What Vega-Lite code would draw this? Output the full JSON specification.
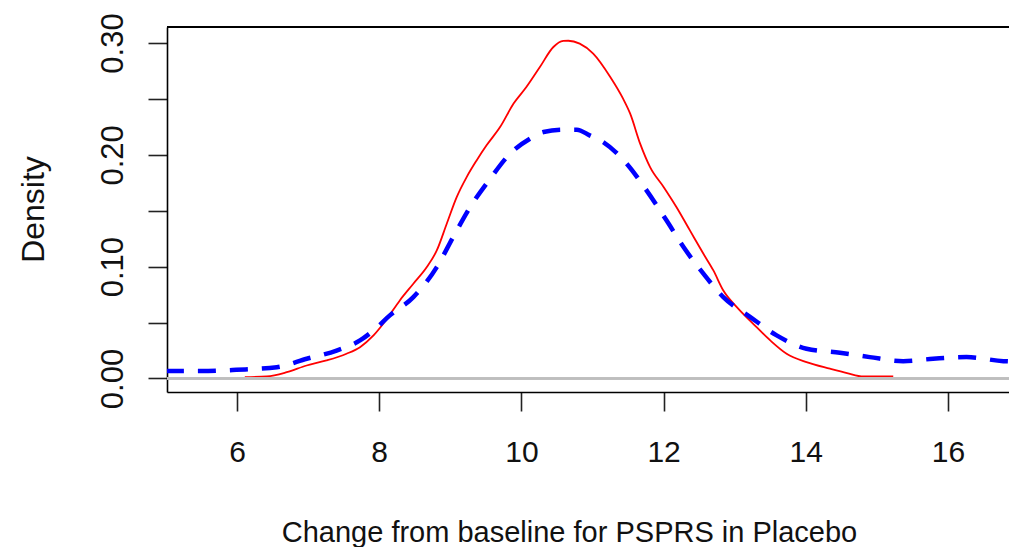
{
  "$schema": "https://vega.github.io/schema/vega-lite/v6.json",
  "autosize": "none",
  "width": 842,
  "height": 365,
  "padding": {"left": 167, "top": 27, "right": 0, "bottom": 155},
  "background": "white",
  "config": {"view": {"stroke": null}, "font": "Liberation Sans"},
  "datasets": {
    "curves": [
      {"series": "Fit 1", "x": 6.11, "density": 0.0012},
      {"series": "Fit 1", "x": 6.42, "density": 0.0018},
      {"series": "Fit 1", "x": 6.70, "density": 0.0056},
      {"series": "Fit 1", "x": 6.98, "density": 0.0116},
      {"series": "Fit 1", "x": 7.26, "density": 0.0161},
      {"series": "Fit 1", "x": 7.54, "density": 0.0221},
      {"series": "Fit 1", "x": 7.73, "density": 0.028},
      {"series": "Fit 1", "x": 7.92, "density": 0.0385},
      {"series": "Fit 1", "x": 8.11, "density": 0.0534},
      {"series": "Fit 1", "x": 8.29, "density": 0.0698},
      {"series": "Fit 1", "x": 8.48, "density": 0.0847},
      {"series": "Fit 1", "x": 8.67, "density": 0.0996},
      {"series": "Fit 1", "x": 8.81, "density": 0.1145},
      {"series": "Fit 1", "x": 8.95, "density": 0.1384},
      {"series": "Fit 1", "x": 9.09, "density": 0.1622},
      {"series": "Fit 1", "x": 9.23, "density": 0.1801},
      {"series": "Fit 1", "x": 9.37, "density": 0.195},
      {"series": "Fit 1", "x": 9.51, "density": 0.2085},
      {"series": "Fit 1", "x": 9.70, "density": 0.2248},
      {"series": "Fit 1", "x": 9.89, "density": 0.2458},
      {"series": "Fit 1", "x": 10.07, "density": 0.2606},
      {"series": "Fit 1", "x": 10.26, "density": 0.2785},
      {"series": "Fit 1", "x": 10.45, "density": 0.2964},
      {"series": "Fit 1", "x": 10.59, "density": 0.3018},
      {"series": "Fit 1", "x": 10.66, "density": 0.302},
      {"series": "Fit 1", "x": 10.82, "density": 0.2994},
      {"series": "Fit 1", "x": 11.01, "density": 0.2905},
      {"series": "Fit 1", "x": 11.25, "density": 0.2696},
      {"series": "Fit 1", "x": 11.43, "density": 0.2502},
      {"series": "Fit 1", "x": 11.53, "density": 0.2368},
      {"series": "Fit 1", "x": 11.67, "density": 0.21},
      {"series": "Fit 1", "x": 11.81, "density": 0.189},
      {"series": "Fit 1", "x": 12.00, "density": 0.1712},
      {"series": "Fit 1", "x": 12.18, "density": 0.1533},
      {"series": "Fit 1", "x": 12.37, "density": 0.1324},
      {"series": "Fit 1", "x": 12.56, "density": 0.1115},
      {"series": "Fit 1", "x": 12.70, "density": 0.0966},
      {"series": "Fit 1", "x": 12.84, "density": 0.0787},
      {"series": "Fit 1", "x": 13.03, "density": 0.0638},
      {"series": "Fit 1", "x": 13.26, "density": 0.0489},
      {"series": "Fit 1", "x": 13.50, "density": 0.034},
      {"series": "Fit 1", "x": 13.73, "density": 0.0221},
      {"series": "Fit 1", "x": 14.01, "density": 0.0146},
      {"series": "Fit 1", "x": 14.34, "density": 0.0087},
      {"series": "Fit 1", "x": 14.58, "density": 0.0048},
      {"series": "Fit 1", "x": 14.81, "density": 0.0018},
      {"series": "Fit 1", "x": 15.23, "density": 0.0018},
      {"series": "Fit 2", "x": 5.0, "density": 0.0066},
      {"series": "Fit 2", "x": 5.50, "density": 0.0066},
      {"series": "Fit 2", "x": 5.99, "density": 0.0077},
      {"series": "Fit 2", "x": 6.56, "density": 0.0101},
      {"series": "Fit 2", "x": 6.98, "density": 0.0176},
      {"series": "Fit 2", "x": 7.40, "density": 0.025},
      {"series": "Fit 2", "x": 7.73, "density": 0.034},
      {"series": "Fit 2", "x": 7.92, "density": 0.043},
      {"series": "Fit 2", "x": 8.15, "density": 0.0564},
      {"series": "Fit 2", "x": 8.48, "density": 0.0728},
      {"series": "Fit 2", "x": 8.81, "density": 0.0996},
      {"series": "Fit 2", "x": 9.04, "density": 0.1264},
      {"series": "Fit 2", "x": 9.28, "density": 0.1533},
      {"series": "Fit 2", "x": 9.56, "density": 0.1786},
      {"series": "Fit 2", "x": 9.84, "density": 0.201},
      {"series": "Fit 2", "x": 10.12, "density": 0.2144},
      {"series": "Fit 2", "x": 10.31, "density": 0.2204},
      {"series": "Fit 2", "x": 10.59, "density": 0.2225},
      {"series": "Fit 2", "x": 10.78, "density": 0.2225},
      {"series": "Fit 2", "x": 10.96, "density": 0.2174},
      {"series": "Fit 2", "x": 11.15, "density": 0.2114},
      {"series": "Fit 2", "x": 11.48, "density": 0.1921},
      {"series": "Fit 2", "x": 11.76, "density": 0.1682},
      {"series": "Fit 2", "x": 12.04, "density": 0.1414},
      {"series": "Fit 2", "x": 12.28, "density": 0.1175},
      {"series": "Fit 2", "x": 12.56, "density": 0.0937},
      {"series": "Fit 2", "x": 12.84, "density": 0.0728},
      {"series": "Fit 2", "x": 13.22, "density": 0.0549},
      {"series": "Fit 2", "x": 13.59, "density": 0.0385},
      {"series": "Fit 2", "x": 14.01, "density": 0.0266},
      {"series": "Fit 2", "x": 14.48, "density": 0.023},
      {"series": "Fit 2", "x": 14.90, "density": 0.0191},
      {"series": "Fit 2", "x": 15.37, "density": 0.0155},
      {"series": "Fit 2", "x": 15.79, "density": 0.0176},
      {"series": "Fit 2", "x": 16.26, "density": 0.0191},
      {"series": "Fit 2", "x": 16.78, "density": 0.0155},
      {"series": "Fit 2", "x": 17.0, "density": 0.015}
    ]
  },
  "data": {"name": "curves"},
  "encoding": {
    "x": {
      "field": "x", "type": "quantitative",
      "scale": {"domain": [5.0155, 16.858], "nice": false, "zero": false},
      "axis": {
        "orient": "bottom",
        "values": [6, 8, 10, 12, 14, 16],
        "format": "d",
        "grid": false,
        "domain": true, "domainColor": "#000000", "domainWidth": 1.6,
        "ticks": true, "tickSize": 19, "tickColor": "#222222", "tickWidth": 1.6,
        "labelFontSize": 30, "labelColor": "#111111", "labelFont": "Liberation Sans",
        "labelBaseline": "alphabetic", "labelPadding": 50, "labelAlign": "center",
        "title": "Change from baseline for PSPRS in Placebo",
        "titleFontSize": 29, "titleFontWeight": "normal", "titleColor": "#111111",
        "titleFont": "Liberation Sans",
        "titleBaseline": "alphabetic", "titleAlign": "center",
        "titleX": 402, "titleY": 149
      }
    },
    "y": {
      "field": "density", "type": "quantitative",
      "scale": {"domain": [-0.0121, 0.3143], "nice": false, "zero": false},
      "axis": {
        "orient": "left",
        "values": [0, 0.05, 0.1, 0.15, 0.2, 0.25, 0.3],
        "grid": false,
        "domain": true, "domainColor": "#000000", "domainWidth": 1.6,
        "ticks": true, "tickSize": 19, "tickColor": "#222222", "tickWidth": 1.6,
        "labelExpr": "round(datum.value * 100) % 10 === 0 ? format(datum.value, '.2f') : ''",
        "labelAngle": 270, "labelAlign": "center", "labelBaseline": "alphabetic",
        "labelPadding": 26, "labelFontSize": 31, "labelColor": "#111111", "labelFont": "Liberation Sans",
        "labelOverlap": false, "labelBound": false,
        "title": "Density",
        "titleFontSize": 32, "titleFontWeight": "normal", "titleColor": "#111111",
        "titleFont": "Liberation Sans",
        "titleAngle": 270, "titleBaseline": "alphabetic", "titleAlign": "center",
        "titleX": -124, "titleY": 182
      }
    }
  },
  "layer": [
    {
      "transform": [{"filter": "datum.series === 'Fit 1'"}],
      "mark": {"type": "line", "color": "#ff0000", "strokeWidth": 1.8, "interpolate": "monotone", "clip": true}
    },
    {
      "transform": [{"filter": "datum.series === 'Fit 2'"}],
      "mark": {"type": "line", "color": "#0000ff", "strokeWidth": 4.5, "strokeDash": [18, 14], "strokeCap": "butt", "interpolate": "monotone", "clip": true}
    },
    {
      "mark": {"type": "rule", "color": "#bebebe", "strokeWidth": 1.5},
      "encoding": {"x": null, "y": {"datum": 0, "type": "quantitative"}}
    },
    {
      "mark": {"type": "rule", "color": "#000000", "strokeWidth": 1.6},
      "encoding": {"x": null, "y": {"datum": 0.3143, "type": "quantitative"}}
    }
  ]
}
